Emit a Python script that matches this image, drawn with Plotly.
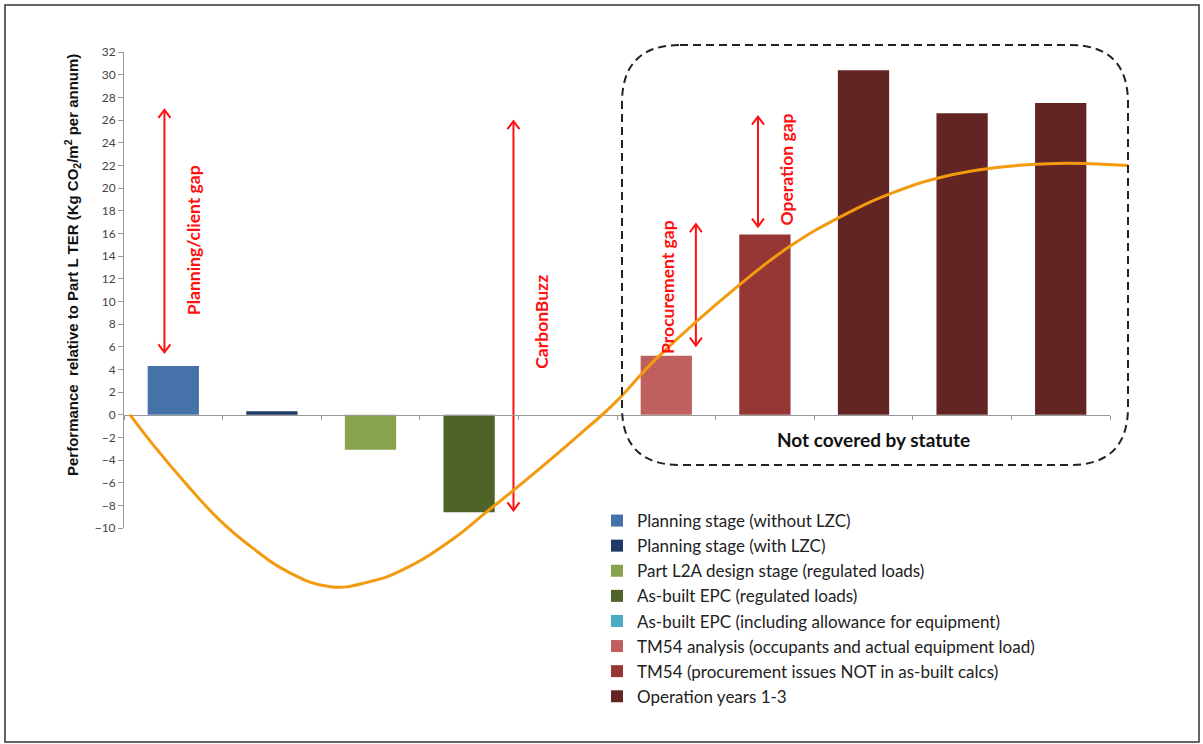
import plotly.graph_objects as go

# ---------------- data ----------------
stage_names = [
    "Planning stage (without LZC)",
    "Planning stage (with LZC)",
    "Part L2A design stage (regulated loads)",
    "As-built EPC (regulated loads)",
    "As-built EPC (including allowance for equipment)",
    "TM54 analysis (occupants and actual equipment load)",
    "TM54 (procurement issues NOT in as-built calcs)",
    "Operation years 1-3",
]
stage_values = [
    [4.3],
    [0.3],
    [-3.1],
    [-8.6],
    [0.0],
    [5.2],
    [15.9],
    [30.4, 26.6, 27.5],
]
stage_colors = ["#4672AA", "#1F3A66", "#87A34B", "#4F6228", "#4BACC6",
                "#C0605E", "#953735", "#632523"]

# illustrative trend curve (category units, kg CO2/m2)
trend_x = [0.56, 0.79, 1.14, 1.47, 1.81, 2.15, 2.59, 2.99, 3.33, 3.84, 4.18,
           4.52, 4.86, 5.20, 5.46, 5.92, 6.72, 7.25, 7.77, 8.30, 8.82, 9.35,
           9.87, 10.29, 10.68]
trend_y = [0.0, -2.6, -6.2, -9.3, -11.8, -13.8, -15.18, -14.74, -13.68,
           -10.95, -8.56, -6.18, -3.71, -1.15, 0.88, 5.12, 11.30, 14.83, 17.48,
           19.59, 21.01, 21.80, 22.15, 22.15, 21.98]

# performance gaps (double-headed arrows)
gap_labels = ["Planning/client gap", "CarbonBuzz", "Procurement gap", "Operation gap"]
gap_x = [0.91, 4.45, 6.30, 6.93]
gap_low = [5.5, -8.45, 6.1, 16.6]
gap_high = [26.9, 25.9, 16.8, 26.3]
gap_label_side = [1, 1, -1, 1]
gap_label_y = [15.4, 8.2, 11.3, 21.6]

y_ticks = list(range(-10, 33, 2))

# ---------------- layout geometry ----------------
W, H = 1203, 744
ML, MR, MT, MB = 124, 68, 52, 144
PW, PH = W - ML - MR, H - MT - MB

x_rng = [0.5, 10.5]
y_rng = [-10, 32]
x_dom = [0, 986 / PW]
y_dom = [(H - MB - 528) / PH, 1]

# overlay axes sharing the same scale but covering the whole plot area
x2_rng = [x_rng[0], x_rng[0] + (x_rng[1] - x_rng[0]) / x_dom[1]]
y2_rng = [y_rng[0] - (y_rng[1] - y_rng[0]) * y_dom[0] / (1 - y_dom[0]), y_rng[1]]

# data units per pixel on the main axes
ux = (x_rng[1] - x_rng[0]) / (x_dom[1] * PW)
uy = (y_rng[1] - y_rng[0]) / ((y_dom[1] - y_dom[0]) * PH)


def px(xp):
    return (xp - ML) / PW


def py(yp):
    return (H - MB - yp) / PH


fig = go.Figure()

pos = 1
for name, vals, col in zip(stage_names, stage_values, stage_colors):
    xs = list(range(pos, pos + len(vals)))
    pos += len(vals)
    fig.add_trace(go.Bar(
        x=xs, y=vals, name=name, width=0.52,
        marker=dict(color=col, line=dict(width=0)),
        xaxis="x", yaxis="y",
    ))

fig.add_trace(go.Scatter(
    x=trend_x, y=trend_y, mode="lines",
    line=dict(color="#F39A0E", width=3, shape="spline", smoothing=1.3),
    xaxis="x2", yaxis="y2", showlegend=False, hoverinfo="skip",
))

# double-headed gap arrows: shaft plus open chevron heads
red = "#FF1010"
hw, hl = 6 * ux, 8 * uy
ax_pts, ay_pts = [], []
for gx, lo, hi in zip(gap_x, gap_low, gap_high):
    ax_pts += [gx, gx, None,
               gx - hw, gx, gx + hw, None,
               gx - hw, gx, gx + hw, None]
    ay_pts += [lo, hi, None,
               hi - hl, hi, hi - hl, None,
               lo + hl, lo, lo + hl, None]
fig.add_trace(go.Scatter(
    x=ax_pts, y=ay_pts, mode="lines", line=dict(color=red, width=2),
    xaxis="x", yaxis="y", showlegend=False, hoverinfo="skip",
))

annotations = []
for lab, gx, side, ly in zip(gap_labels, gap_x, gap_label_side, gap_label_y):
    annotations.append(dict(
        x=gx + side * 0.29, y=ly, xref="x", yref="y", text=lab,
        showarrow=False, textangle=-90,
        font=dict(family="Lato", size=17.5, color=red, weight="bold"),
    ))

annotations.append(dict(
    x=8.1, y=-2.2, xref="x", yref="y", text="Not covered by statute",
    showarrow=False, font=dict(family="Lato", size=19, color="#111", weight="bold"),
))
annotations.append(dict(
    x=px(72), y=py(265), xref="paper", yref="paper",
    xanchor="center", yanchor="middle",
    text="Performance  relative to Part L TER (Kg CO<sub>2</sub>/m<sup>2</sup> per annum)",
    showarrow=False, textangle=-90,
    font=dict(family="Liberation Sans", size=15, color="#111", weight="bold"),
))

# dashed rounded frame around the non-statutory stages
x0, x1, y0, y1, r = 622, 1128, 45, 465, 58
rx, ry = r / PW, r / PH
X0, X1, Y0, Y1 = px(x0), px(x1), py(y0), py(y1)
path = (f"M{X0+rx},{Y0} L{X1-rx},{Y0} Q{X1},{Y0} {X1},{Y0-ry} "
        f"L{X1},{Y1+ry} Q{X1},{Y1} {X1-rx},{Y1} "
        f"L{X0+rx},{Y1} Q{X0},{Y1} {X0},{Y1+ry} "
        f"L{X0},{Y0-ry} Q{X0},{Y0} {X0+rx},{Y0} Z")

shapes = [
    dict(type="path", path=path, xref="paper", yref="paper",
         line=dict(color="#222", width=2, dash="8px,5px")),
    dict(type="rect", xref="paper", yref="paper",
         x0=px(5), x1=px(1199), y0=py(5), y1=py(742),
         line=dict(color="#333", width=1.5)),
]

zero_pos = y_dom[0] + (0 - y_rng[0]) / (y_rng[1] - y_rng[0]) * (y_dom[1] - y_dom[0])

fig.update_layout(
    width=W, height=H,
    margin=dict(l=ML, r=MR, t=MT, b=MB, autoexpand=False),
    paper_bgcolor="white", plot_bgcolor="rgba(0,0,0,0)",
    barmode="overlay",
    showlegend=True,
    legend=dict(
        x=px(597), y=py(503), xanchor="left", yanchor="top",
        font=dict(family="Lato", size=17, color="#222"),
        bgcolor="rgba(0,0,0,0)", tracegroupgap=0,
    ),
    xaxis=dict(
        domain=x_dom, range=x_rng, anchor="free", position=zero_pos,
        tickmode="array", tickvals=[i + 0.5 for i in range(11)],
        showticklabels=False, ticks="outside", ticklen=4, tickcolor="#999",
        showline=True, linecolor="#999", linewidth=1,
        showgrid=False, zeroline=False, fixedrange=True,
    ),
    yaxis=dict(
        domain=y_dom, range=y_rng, anchor="x",
        tickmode="array", tickvals=y_ticks,
        ticks="outside", ticklen=5, tickcolor="#999",
        showline=True, linecolor="#999", linewidth=1,
        showgrid=False, zeroline=False, fixedrange=True,
        tickfont=dict(family="Lato", size=12, color="#444"),
    ),
    xaxis2=dict(domain=[0, 1], range=x2_rng, anchor="y2", visible=False, fixedrange=True),
    yaxis2=dict(domain=[0, 1], range=y2_rng, anchor="x2", visible=False, fixedrange=True),
    annotations=annotations,
    shapes=shapes,
)

fig.write_html("out.html")
